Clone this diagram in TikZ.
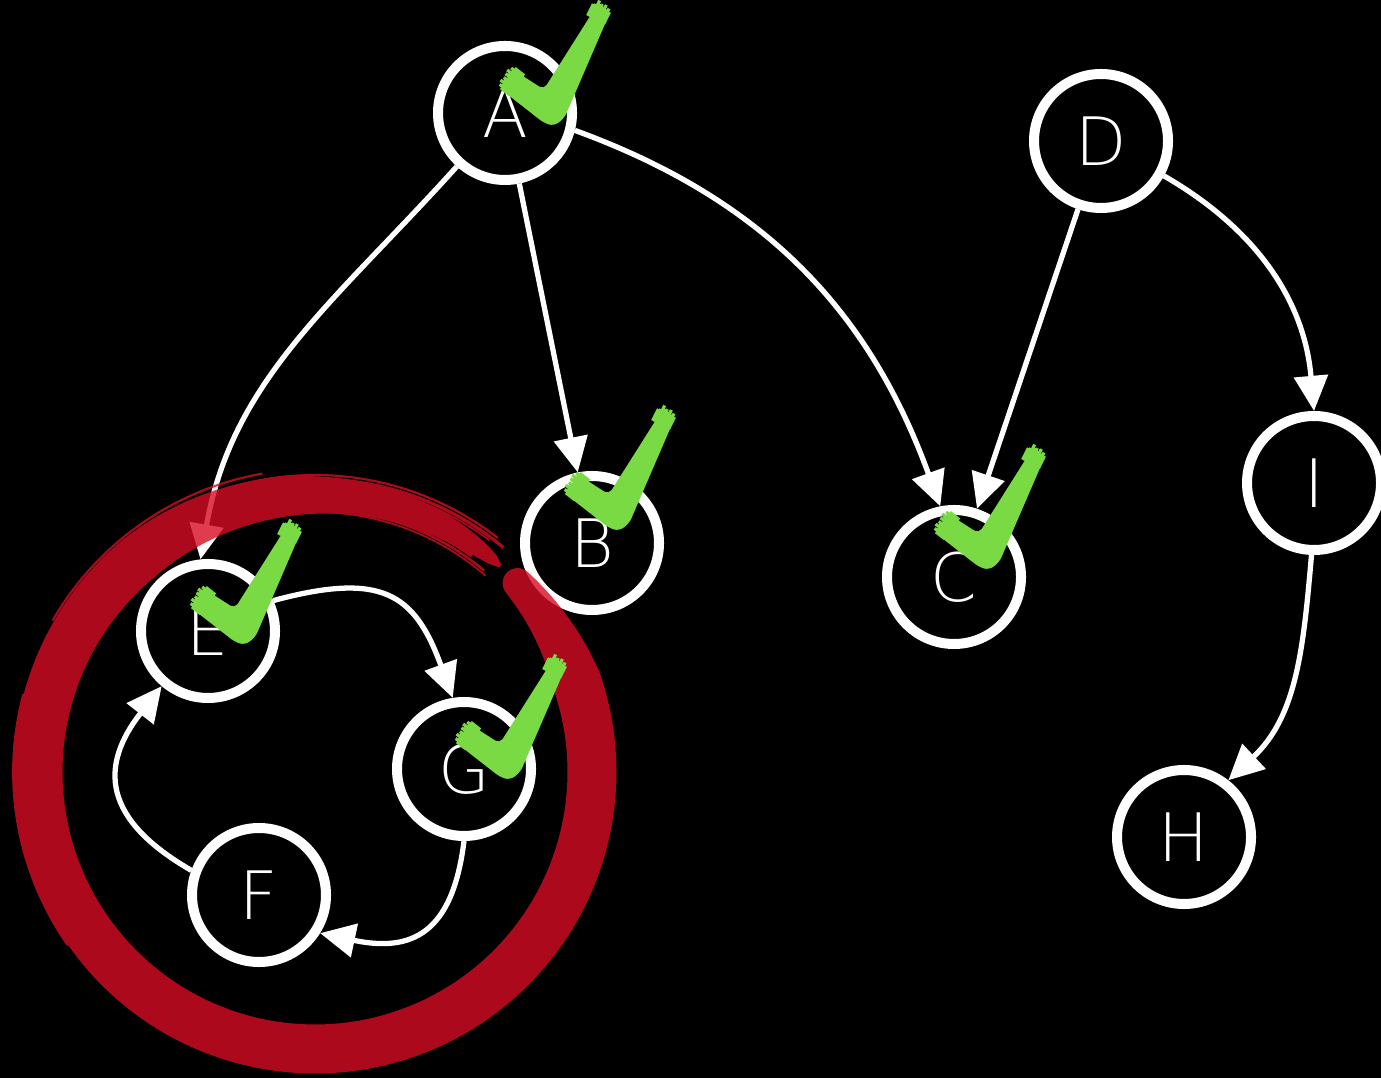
\documentclass[tikz,border=0pt]{standalone}
\usepackage{fontspec}
\setmainfont{DejaVuSans-ExtraLight.ttf}
\usetikzlibrary{arrows.meta}

\definecolor{ringred}{RGB}{216,12,35}
\definecolor{tickgreen}{RGB}{121,218,68}

\tikzset{
  vertex/.style={circle,draw=white,fill=black,line width=2.85pt,minimum size=1.34cm,
    inner sep=0pt,text=white,font=\fontsize{19}{24}\selectfont},
  edge/.style={draw=white,line width=1.5pt,-{Triangle[length=10pt,width=9.5pt]}},
  donemark/.pic={
    \fill[tickgreen,rounded corners=1.5pt] (-0.47,0.32) -- (-0.06,0.0) -- (0.04,-0.03)
      -- (0.143,0.048) -- (0.58,1.06) -- (0.44,1.13) -- (-0.062,0.335) -- (-0.35,0.52) -- cycle;
    % ragged bristles at both ends
    \foreach \o/\l in {-0.09/0.01,-0.07/0.04,-0.05/0.02,-0.03/0.06,-0.01/0.03,0.01/0.05,
        0.03/0.04,0.05/0.07,0.07/0.02,0.09/0.01}
      \draw[tickgreen,line width=0.9pt] ({0.51-0.894*\o-0.447*0.12},{1.14+0.447*\o-0.894*0.12})
        -- ({0.51-0.894*\o+0.447*\l},{1.14+0.447*\o+0.894*\l});
    \foreach \o/\l in {-0.12/0.01,-0.10/0.04,-0.08/0.02,-0.06/0.06,-0.04/0.03,-0.02/0.05,
        0.0/0.02,0.02/0.06,0.04/0.04,0.06/0.07,0.08/0.03,0.10/0.05,0.12/0.02}
      \draw[tickgreen,line width=0.9pt] ({-0.41+0.615*\o+0.788*0.10},{0.44+0.788*\o-0.615*0.10})
        -- ({-0.41+0.615*\o-0.788*\l},{0.44+0.788*\o+0.615*\l});
  }
}

\begin{document}
\begin{tikzpicture}[declare function={ringw(\a)=min(0.49,0.30+(43-\a)*0.008,0.49*pow(max(0.001,(\a+312)/82),0.4));}]
  \fill[black] (0,0) rectangle (13.81,-10.78);
  \useasboundingbox (0,0) rectangle (13.81,-10.78);

  % nodes
  \node[vertex] (A) at (5.05,-1.13) {A};
  \node[vertex] (B) at (5.92,-5.43) {B};
  \node[vertex] (C) at (9.54,-5.77) {C};
  \node[vertex] (D) at (11.01,-1.41) {D};
  \node[vertex] (E) at (2.08,-6.31) {E};
  \node[vertex] (F) at (2.59,-8.95) {F};
  \node[vertex] (G) at (4.64,-7.69) {G};
  \node[vertex] (H) at (11.84,-8.37) {H};
  \node[vertex] (I) at (13.14,-4.83) {I};

  % edges
  \draw[edge] (A.228) to[out=228,in=80] (E.96);
  \draw[edge] (A) -- (B);
  \draw[edge] (A.-14) to[out=-20,in=110] (C.101);
  \draw[edge] (D) -- (C);
  \draw[edge] (D.-29) to[out=-30,in=95] (I.90);
  \draw[edge] (I.-92) to[out=-95,in=43] (H.52);
  \draw[edge] (E.25) to[out=15,in=110,looseness=1.4] (G.99);
  \draw[edge] (G.-90) to[out=-97,in=-12,looseness=1.4] (F.-32);
  \draw[edge] (F.160) to[out=150,in=232,looseness=1.4] (E.230);

  % brush ring round E, F, G
  \coordinate (ringc) at (3.15,-7.72);
  \begin{scope}[transparency group,opacity=0.8]
    \fill[ringred] plot[domain=43:-312,samples=180]
        ({3.15+(2.77+0.5*ringw(\x))*cos(\x)},{-7.72+(2.77+0.5*ringw(\x))*sin(\x)})
      -- plot[domain=-312:43,samples=180]
        ({3.15+(2.77-0.5*ringw(\x))*cos(\x)},{-7.72+(2.77-0.5*ringw(\x))*sin(\x)}) -- cycle;
    \fill[ringred] (ringc) ++(43:2.77) circle (0.15);
    \foreach \r/\a/\b/\w in {2.97/110/52/0.6pt, 2.93/100/50/0.9pt, 2.90/95/53/0.5pt,
        2.63/115/50/0.7pt, 2.60/100/49/0.5pt, 2.67/90/54/1pt, 3.02/215/165/0.5pt, 3.03/150/100/0.6pt}
      \draw[ringred,line width=\w] (ringc) ++(\a:\r) arc[start angle=\a,end angle=\b,radius=\r];
  \end{scope}

  % ticks
  \pic at (5.50,-1.23) {donemark};
  \pic at (6.15,-5.28) {donemark};
  \pic at (9.85,-5.67) {donemark};
  \pic at (2.41,-6.42) {donemark};
  \pic at (5.06,-7.77) {donemark};
\end{tikzpicture}
\end{document}
